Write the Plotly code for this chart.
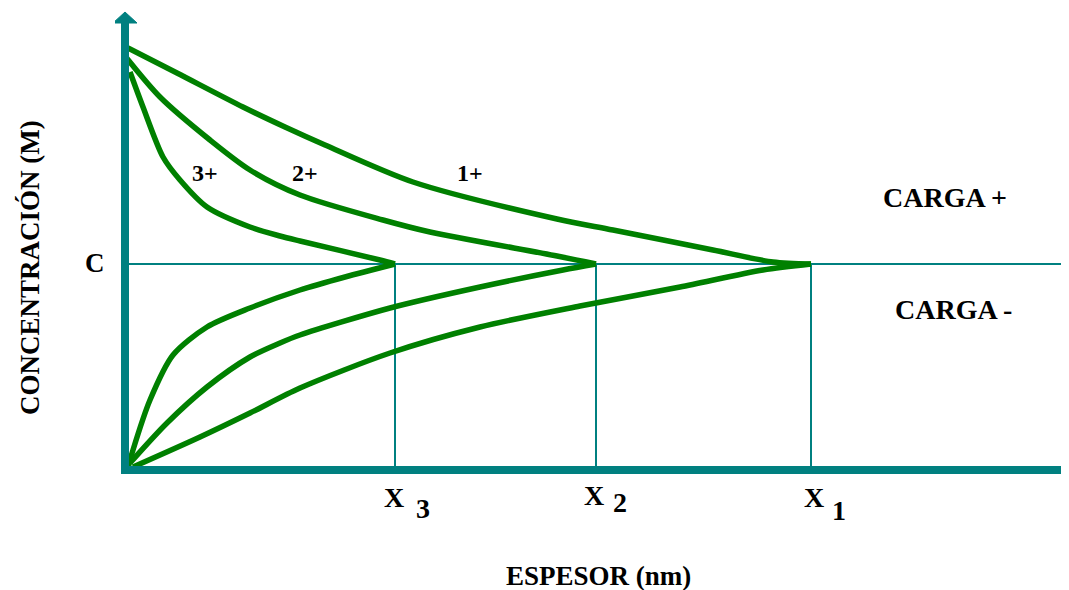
import plotly.graph_objects as go

# ---- data (arbitrary units: thickness vs concentration) ----
c_level = 206          # concentration C
x_marks = [270, 471, 686]          # X3, X2, X1
x_names = ["X", "X", "X"]
x_subs = ["3", "2", "1"]

pos3_x = [5, 18, 38, 55, 82, 125, 155, 175, 255, 270]
pos3_y = [398, 363, 313, 290, 263, 243, 234, 229, 210, 206]
pos2_x = [0, 35, 85, 125, 175, 258, 305, 432, 471]
pos2_y = [414, 373, 330, 300, 275, 250, 238, 214, 206]
pos1_x = [3, 52, 118, 160, 200, 288, 432, 488, 588, 648, 686]
pos1_y = [422, 397, 363, 343, 325, 288, 251, 240, 220, 208, 206]

neg3_x = [3, 8, 25, 48, 82, 125, 175, 220, 270]
neg3_y = [2, 20, 70, 115, 143, 162, 180, 193, 206]
neg2_x = [5, 42, 82, 125, 155, 175, 265, 355, 438, 471]
neg2_y = [7, 47, 83, 113, 127, 135, 162, 183, 200, 206]
neg1_x = [8, 75, 125, 175, 265, 355, 455, 555, 638, 686]
neg1_y = [3, 33, 57, 82, 117, 143, 164, 183, 200, 206]

curve_labels = ["3+", "2+", "1+"]

TEAL = "#008080"
GREEN = "#008000"
FONT = "Liberation Serif"

XR = [-10, 944]
YR = [-10, 462]

fig = go.Figure()
for xs, ys in [(pos1_x, pos1_y), (pos2_x, pos2_y), (pos3_x, pos3_y),
               (neg1_x, neg1_y), (neg2_x, neg2_y), (neg3_x, neg3_y)]:
    fig.add_trace(go.Scatter(x=xs, y=ys, mode="lines",
                             line=dict(color=GREEN, width=5.5, shape="spline", smoothing=0.8),
                             hoverinfo="skip", showlegend=False))

shapes = []
shapes.append(dict(type="line", x0=0, x1=960, y0=c_level, y1=c_level,
                   line=dict(color=TEAL, width=2), layer="below"))
for xm in x_marks:
    shapes.append(dict(type="line", x0=xm, x1=xm, y0=0, y1=c_level,
                       line=dict(color=TEAL, width=2), layer="below"))
shapes.append(dict(type="line", x0=-4, x1=960, y0=0, y1=0, line=dict(color=TEAL, width=8)))
shapes.append(dict(type="line", x0=0, x1=0, y0=-4, y1=448, line=dict(color=TEAL, width=8)))
shapes.append(dict(type="path", path="M -12,447 L 12,447 L 0,458 Z",
                   fillcolor=TEAL, line=dict(color=TEAL, width=1)))

annotations = []
def txt(x, y, s, size, **kw):
    # position given in data units, placed in paper coords so it is never hidden
    px = (x - XR[0]) / (XR[1] - XR[0])
    py = (y - YR[0]) / (YR[1] - YR[0])
    annotations.append(dict(x=px, y=py, xref="paper", yref="paper", text=s, showarrow=False,
                            xanchor="center", yanchor="middle",
                            font=dict(family=FONT, size=size, color="black", weight="bold"), **kw))

for (lx, ly), s in zip([(80, 297), (180, 297), (345, 297)], curve_labels):
    txt(lx, ly, s, 24)

txt(-30, 207, "C", 27)
txt(820, 273, "CARGA +", 28)
txt(828, 161, "CARGA -", 28)
txt(473, -106, "ESPESOR (nm)", 27)
txt(-95, 202, "CONCENTRACIÓN (M)", 27, textangle=-90)

main_off = [(-1, -27), (-2, -25), (3, -27)]
sub_off = [(28, -38), (24, -32), (28, -40)]
for xm, nm, sb, mo, so in zip(x_marks, x_names, x_subs, main_off, sub_off):
    txt(xm + mo[0], mo[1], nm, 28)
    txt(xm + so[0], so[1], sb, 28)

fig.update_layout(
    width=1061, height=582,
    margin=dict(l=107, r=0, t=0, b=110),
    paper_bgcolor="white", plot_bgcolor="white",
    xaxis=dict(range=XR, visible=False, fixedrange=True),
    yaxis=dict(range=YR, visible=False, fixedrange=True),
    shapes=shapes, annotations=annotations, showlegend=False,
)
fig.write_html("out.html")
